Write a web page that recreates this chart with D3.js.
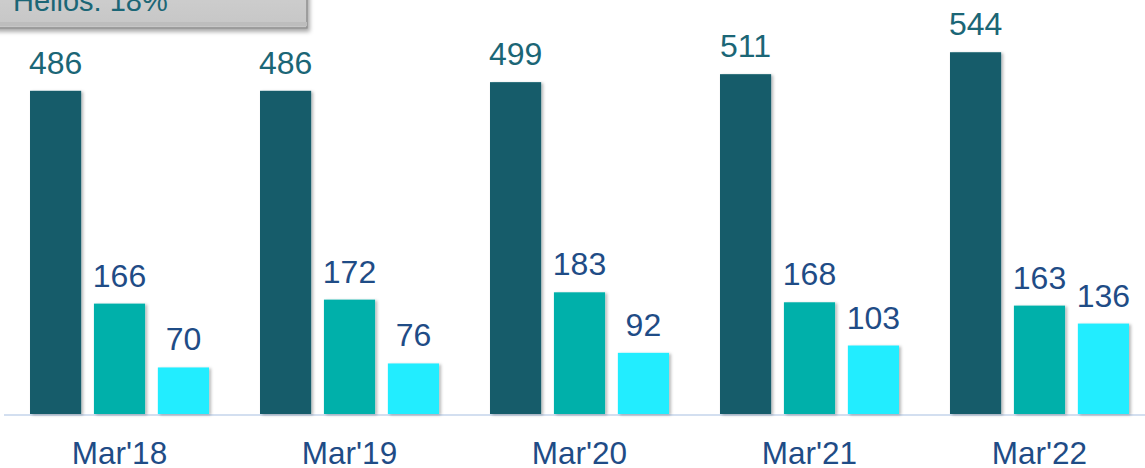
<!DOCTYPE html>
<html>
<head>
<meta charset="utf-8">
<script src="https://cdn.jsdelivr.net/npm/d3@7"></script>
<style>
  html, body { margin: 0; padding: 0; background: #ffffff; }
  svg { display: block; font-family: "Liberation Sans", Arial, sans-serif; }
</style>
</head>
<body>
<svg id="chart" width="1145" height="468"></svg>
<script>
// Yearly figures per segment
const categories = ["Mar'18", "Mar'19", "Mar'20", "Mar'21", "Mar'22"];
const seriesNames = ["total", "segmentA", "segmentB"];
const totalValues = [486, 486, 499, 511, 544];
const segmentAValues = [166, 172, 183, 168, 163];
const segmentBValues = [70, 76, 92, 103, 136];
const calloutText = "Helios: 18%";

const seriesValues = [totalValues, segmentAValues, segmentBValues];
const barColors = ["#135c6a", "#00b0aa", "#24edff"];
const labelColors = ["#1b6676", "#1f4c86", "#1f4c86"];

const svg = d3.select("#chart");
const baseline = 414;

const x0 = d3.scaleBand()
  .domain(categories)
  .range([4.5, 1154.5])
  .paddingInner(0.2217)
  .paddingOuter(0.1109);

const x1 = d3.scaleBand()
  .domain(seriesNames)
  .range([0, x0.bandwidth()])
  .paddingInner(0.2)
  .paddingOuter(0);

const y = d3.scaleLinear().domain([0, 600]).range([baseline, 15]);

// soft shadow under the bars and the callout
const defs = svg.append("defs");
const shadow = defs.append("filter").attr("id", "barShadow")
  .attr("x", "-20%").attr("y", "-10%").attr("width", "150%").attr("height", "130%");
shadow.append("feDropShadow")
  .attr("dx", 2).attr("dy", 1).attr("stdDeviation", 1.6)
  .attr("flood-color", "#000").attr("flood-opacity", 0.28);

const boxGrad = defs.append("linearGradient").attr("id", "boxGrad")
  .attr("x1", 0).attr("y1", 0).attr("x2", 0).attr("y2", 1);
boxGrad.append("stop").attr("offset", "0%").attr("stop-color", "#cfcfcf");
boxGrad.append("stop").attr("offset", "100%").attr("stop-color", "#c6c6c6");

const boxShadow = defs.append("filter").attr("id", "boxShadow")
  .attr("x", "-10%").attr("y", "-20%").attr("width", "130%").attr("height", "160%");
boxShadow.append("feDropShadow")
  .attr("dx", 2).attr("dy", 3).attr("stdDeviation", 2)
  .attr("flood-color", "#000").attr("flood-opacity", 0.35);

// baseline
svg.append("line")
  .attr("x1", 4).attr("x2", 1145)
  .attr("y1", baseline + 1).attr("y2", baseline + 1)
  .attr("stroke", "#d3dff0").attr("stroke-width", 2);

const rows = categories.map((c, i) => ({
  category: c,
  values: seriesNames.map((s, k) => ({ series: s, k, value: seriesValues[k][i] }))
}));

const groups = svg.selectAll("g.group")
  .data(rows)
  .join("g")
  .attr("class", "group")
  .attr("transform", d => `translate(${x0(d.category)},0)`);

groups.selectAll("rect")
  .data(d => d.values)
  .join("rect")
  .attr("x", d => x1(d.series))
  .attr("y", d => y(d.value))
  .attr("width", x1.bandwidth())
  .attr("height", d => baseline - y(d.value))
  .attr("fill", d => barColors[d.k])
  .attr("filter", "url(#barShadow)");

groups.selectAll("text.value")
  .data(d => d.values)
  .join("text")
  .attr("class", "value")
  .attr("x", d => x1(d.series) + x1.bandwidth() / 2)
  .attr("y", d => y(d.value) - 17)
  .attr("text-anchor", "middle")
  .attr("font-size", 32)
  .attr("fill", d => labelColors[d.k])
  .text(d => d.value);

// category axis labels
groups.append("text")
  .attr("x", x0.bandwidth() / 2)
  .attr("y", 464)
  .attr("text-anchor", "middle")
  .attr("font-size", 31.5)
  .attr("fill", "#1f4c86")
  .text(d => d.category);

// callout box in the top-left corner
const callout = svg.append("g");
callout.append("rect")
  .attr("x", -6).attr("y", -12)
  .attr("width", 313).attr("height", 40)
  .attr("fill", "url(#boxGrad)")
  .attr("stroke", "#8f8f8f").attr("stroke-width", 1.5)
  .attr("filter", "url(#boxShadow)");
callout.append("rect")
  .attr("x", -6).attr("y", 22)
  .attr("width", 313).attr("height", 4)
  .attr("fill", "#bdbdbd");
callout.append("text")
  .attr("x", 13).attr("y", 11)
  .attr("font-size", 29)
  .attr("fill", "#1b6676")
  .text(calloutText);
</script>
</body>
</html>
